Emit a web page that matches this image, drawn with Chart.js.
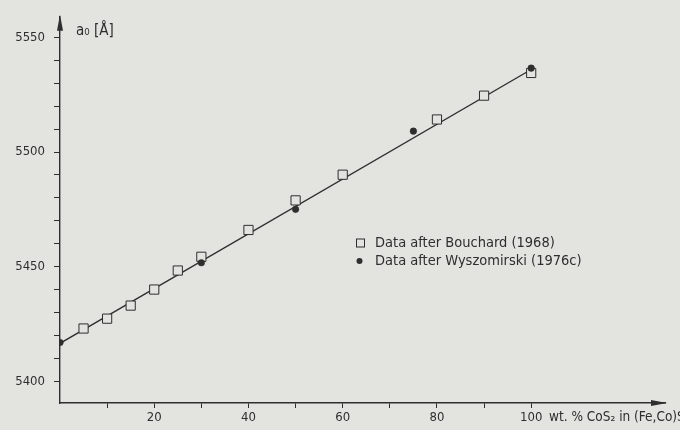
<!DOCTYPE html>
<html>
<head>
<meta charset="utf-8">
<script src="https://cdn.jsdelivr.net/npm/chart.js@4"></script>
<style>
  html, body { margin: 0; padding: 0; background: #e3e3df; }
  #wrap { width: 680px; height: 430px; }
</style>
</head>
<body>
<div id="wrap"><canvas id="latticeChart"></canvas></div>
<script>
// Bouchard (1968) - open squares
const bouchardX = [5, 10, 15, 20, 25, 30, 40, 50, 60, 80, 90, 100];
const bouchardY = [5423.0, 5427.3, 5433.0, 5440.0, 5448.3, 5454.3, 5466.0, 5478.9, 5490.1, 5514.2, 5524.6, 5534.5];
// Wyszomirski (1976c) - filled dots
const wyszX = [0, 30, 50, 75, 100];
const wyszY = [5416.9, 5451.7, 5475.0, 5509.1, 5536.6];
// fitted straight line
const fitX = [0, 100];
const fitY = [5416.5, 5536.0];
// axis ticks
const xTicks = [10, 20, 30, 40, 50, 60, 70, 80, 90, 100];
const yTicks = [5400, 5410, 5420, 5430, 5440, 5450, 5460, 5470, 5480, 5490, 5500, 5510, 5520, 5530, 5540, 5550];

const ink = '#2e2e2e';
const paper = '#e3e3df';
const fontFam = '"DejaVu Sans Condensed", "DejaVu Sans", sans-serif';

function pairs(xs, ys) {
    return xs.map((x, i) => ({ x: x, y: ys[i] }));
}

// arrows, axis titles and the legend box
const decorations = {
    id: 'decorations',
    afterDraw(chart) {
        const ctx = chart.ctx;
        const { left, top, right, bottom } = chart.chartArea;
        ctx.save();
        ctx.fillStyle = ink;
        ctx.strokeStyle = ink;

        // arrow heads
        ctx.beginPath();
        ctx.moveTo(left, top - 2);
        ctx.lineTo(left - 3, top + 14);
        ctx.lineTo(left + 3, top + 14);
        ctx.closePath();
        ctx.fill();
        ctx.beginPath();
        ctx.moveTo(right + 2, bottom);
        ctx.lineTo(right - 14, bottom - 3);
        ctx.lineTo(right - 14, bottom + 3);
        ctx.closePath();
        ctx.fill();

        // axis titles
        ctx.font = '15px ' + fontFam;
        ctx.textBaseline = 'middle';
        ctx.textAlign = 'left';
        ctx.fillText('a₀ [Å]', 76, 31);
        ctx.font = '13.5px ' + fontFam;
        ctx.fillText('wt. % CoS₂ in (Fe,Co)S₂', 549, 417);

        // legend
        const ds = chart.data.datasets;
        const entries = [ds[1], ds[0]];
        entries.forEach((d, i) => {
            const y = 243 + i * 18;
            ctx.lineWidth = 1;
            if (d.pointStyle === 'rect') {
                ctx.fillStyle = paper;
                ctx.fillRect(356.5, y - 4, 8, 8);
                ctx.strokeRect(356.5, y - 4, 8, 8);
            } else {
                ctx.beginPath();
                ctx.arc(359.5, y, 3, 0, Math.PI * 2);
                ctx.fillStyle = ink;
                ctx.fill();
            }
            ctx.fillStyle = ink;
            ctx.font = '14.5px ' + fontFam;
            ctx.fillText(d.label, 375, y);
        });
        ctx.restore();
    }
};

const ctx = document.getElementById('latticeChart').getContext('2d');
const latticeChart = new Chart(ctx, {
    type: 'scatter',
    data: {
        datasets: [{
            label: 'Data after Wyszomirski (1976c)',
            data: pairs(wyszX, wyszY),
            pointStyle: 'circle',
            pointRadius: 3.3,
            pointBackgroundColor: ink,
            pointBorderColor: ink,
            pointBorderWidth: 0.5
        }, {
            label: 'Data after Bouchard (1968)',
            data: pairs(bouchardX, bouchardY),
            pointStyle: 'rect',
            pointRadius: 6.5,
            pointBackgroundColor: paper,
            pointBorderColor: ink,
            pointBorderWidth: 1
        }, {
            label: 'fit',
            data: pairs(fitX, fitY),
            showLine: true,
            borderColor: ink,
            borderWidth: 1.4,
            pointRadius: 0
        }]
    },
    options: {
        responsive: true,
        maintainAspectRatio: false,
        animation: false,
        layout: { padding: { top: 12, right: 15, left: 0, bottom: 0 } },
        plugins: {
            legend: { display: false },
            tooltip: { enabled: false }
        },
        scales: {
            x: {
                type: 'linear',
                min: 0,
                max: 128.4,
                afterBuildTicks: s => { s.ticks = xTicks.map(v => ({ value: v })); },
                afterFit: s => { s.height = 27; },
                grid: { drawOnChartArea: false, color: ink, tickLength: 5 },
                border: { color: ink, width: 1.4 },
                ticks: {
                    color: ink,
                    padding: 2,
                    maxRotation: 0,
                    font: { family: fontFam, size: 13 },
                    callback: v => (v % 20 === 0 ? v : '')
                }
            },
            y: {
                type: 'linear',
                min: 5390.5,
                max: 5559,
                afterBuildTicks: s => { s.ticks = yTicks.map(v => ({ value: v })); },
                afterFit: s => { s.width = 60; },
                grid: { drawOnChartArea: false, color: ink, tickLength: 6 },
                border: { color: ink, width: 1.4 },
                ticks: {
                    color: ink,
                    padding: 9,
                    font: { family: fontFam, size: 13 },
                    callback: v => (v % 50 === 0 ? v : '')
                }
            }
        }
    },
    plugins: [decorations]
});
</script>
</body>
</html>
